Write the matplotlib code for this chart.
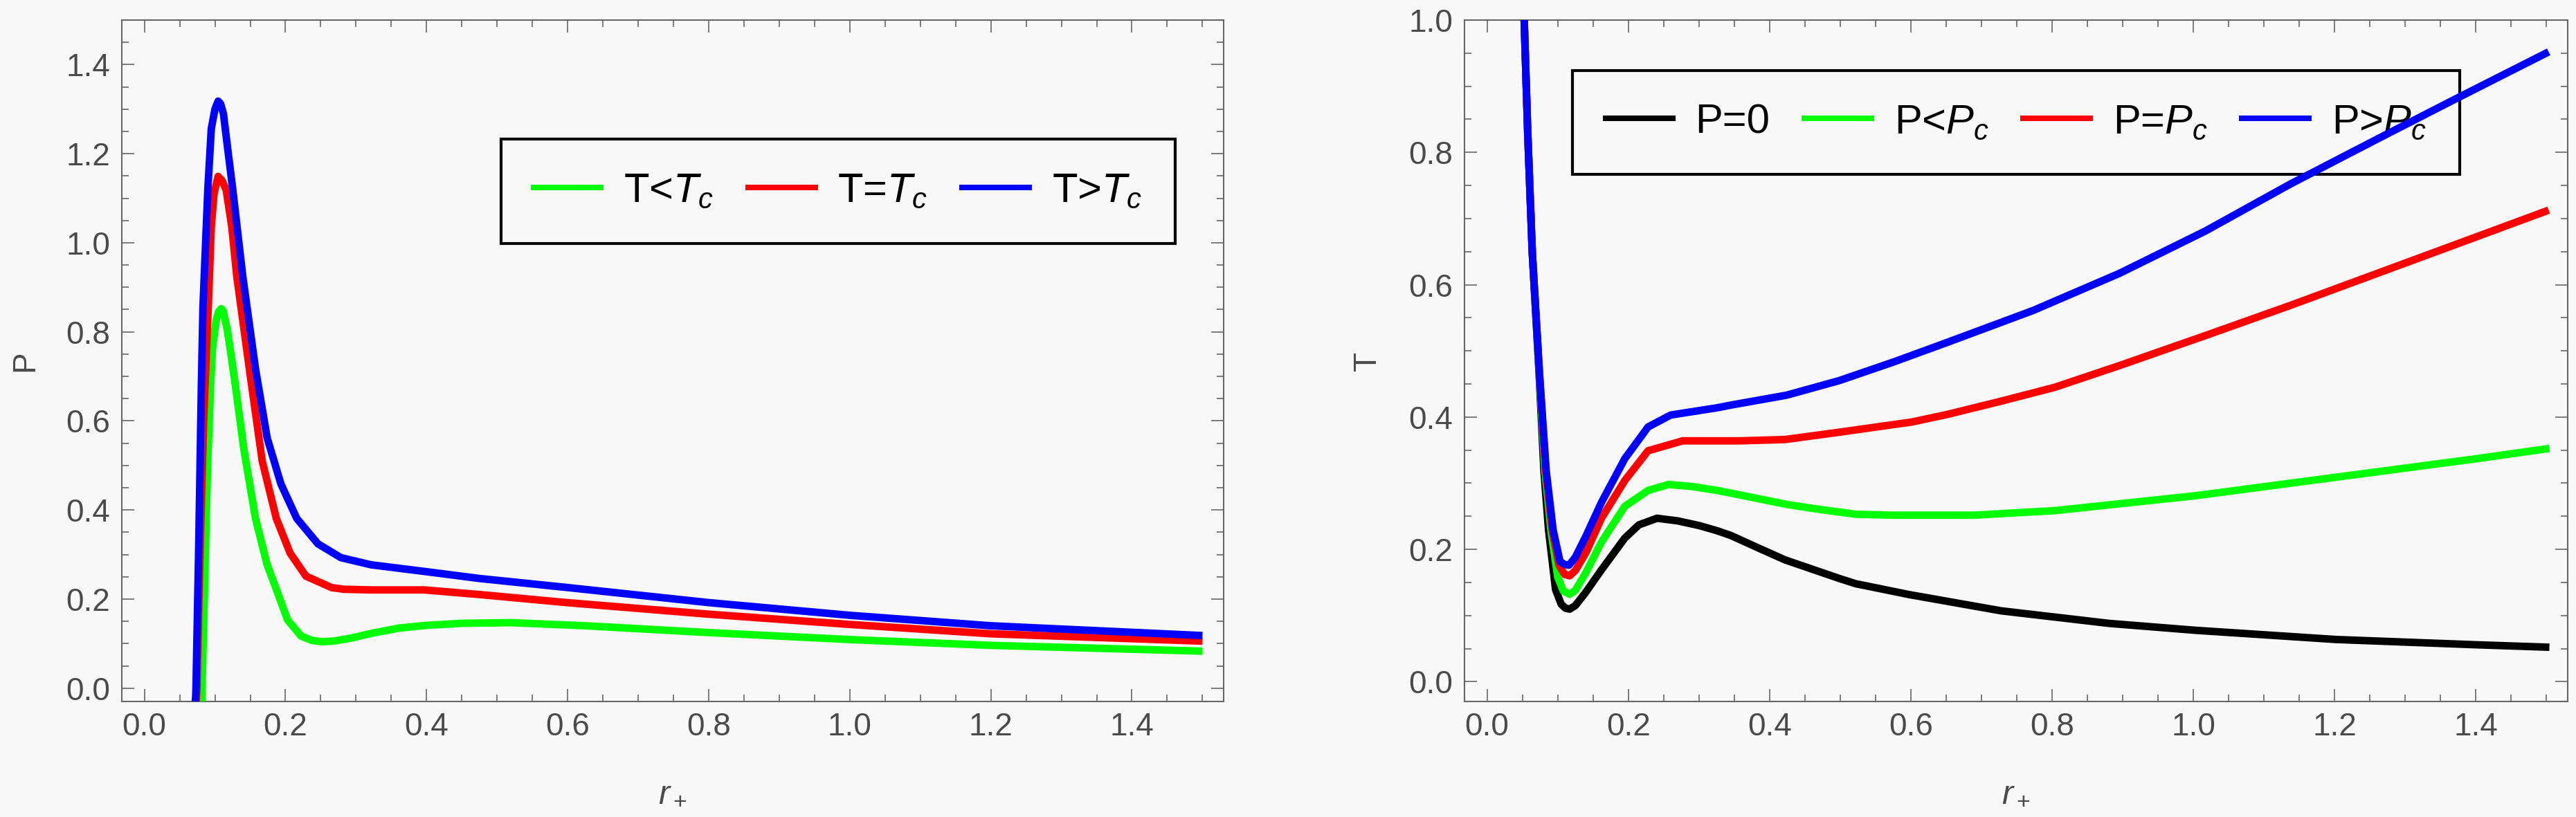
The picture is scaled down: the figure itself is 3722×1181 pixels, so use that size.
import matplotlib
matplotlib.use("Agg")
import matplotlib.pyplot as plt
from matplotlib.lines import Line2D
from matplotlib.ticker import MultipleLocator, FormatStrFormatter

plt.rcParams['font.family'] = ['Liberation Sans', 'DejaVu Sans']
plt.rcParams['mathtext.fontset'] = 'custom'
plt.rcParams['mathtext.rm'] = 'Liberation Sans'
plt.rcParams['mathtext.it'] = 'Liberation Sans:italic'

# ---------------- Left panel: P vs r_+ ----------------
r_P_low = [0.0810, 0.0816, 0.0855, 0.0895, 0.0937, 0.0967, 0.1016, 0.1050, 0.1090, 0.1117,
           0.1180, 0.1280, 0.1410, 0.1575, 0.1740, 0.1870, 0.2030, 0.2220, 0.2380, 0.2530,
           0.2700, 0.2920, 0.3250, 0.3620, 0.4000, 0.4500, 0.5200, 0.6250, 0.8000, 1.0000,
           1.2000, 1.5000]
P_low = [-0.05, -0.008, 0.24, 0.498, 0.677, 0.766, 0.825, 0.845, 0.852, 0.847,
         0.800, 0.691, 0.536, 0.381, 0.277, 0.222, 0.153, 0.117, 0.107, 0.104,
         0.106, 0.112, 0.124, 0.135, 0.141, 0.1455, 0.147, 0.140, 0.1247, 0.109,
         0.096, 0.083]

r_P_crit = [0.0725, 0.0745, 0.0790, 0.0840, 0.0905, 0.0947, 0.0986, 0.1045, 0.1100, 0.1160,
            0.1240, 0.1310, 0.1510, 0.1670, 0.1870, 0.2066, 0.2290, 0.2655, 0.2830, 0.3210,
            0.3970, 0.4760, 0.5990, 0.8000, 1.0000, 1.2000, 1.5000]
P_crit = [-0.05, 0.0, 0.32, 0.60, 0.856, 1.033, 1.110, 1.149, 1.140, 1.118,
          1.034, 0.924, 0.691, 0.510, 0.381, 0.303, 0.2515, 0.2256, 0.222, 0.2205,
          0.2205, 0.210, 0.192, 0.166, 0.143, 0.122, 0.1055]

r_P_high = [0.0715, 0.0730, 0.0770, 0.0807, 0.0830, 0.0900, 0.0948, 0.1000, 0.1045, 0.1080,
            0.1120, 0.1180, 0.1250, 0.1395, 0.1575, 0.1740, 0.1935, 0.2160, 0.2460, 0.2785,
            0.3210, 0.3970, 0.4760, 0.5990, 0.8000, 1.0000, 1.2000, 1.5000]
P_high = [-0.05, -0.008, 0.32, 0.677, 0.856, 1.123, 1.256, 1.300, 1.318, 1.312,
          1.290, 1.212, 1.123, 0.924, 0.717, 0.562, 0.4585, 0.381, 0.324, 0.293,
          0.277, 0.262, 0.246, 0.226, 0.192, 0.1635, 0.140, 0.118]

left_labels = ['T<$T_c$', 'T=$T_c$', 'T>$T_c$']

# ---------------- Right panel: T vs r_+ ----------------
r_T_zero = [0.0508, 0.0527, 0.0576, 0.0640, 0.0735, 0.0805, 0.0870, 0.0970, 0.1050, 0.1110,
            0.1170, 0.1250, 0.1390, 0.1620, 0.1950, 0.2150, 0.2407, 0.2700, 0.3000, 0.3260,
            0.3450, 0.3800, 0.4220, 0.4985, 0.5220, 0.5980, 0.7280, 0.8810, 1.0030, 1.2020,
            1.4010, 1.5040]
T_zero = [1.06, 0.996, 0.829, 0.649, 0.469, 0.319, 0.230, 0.139, 0.117, 0.111,
          0.1096, 0.115, 0.134, 0.169, 0.217, 0.237, 0.247, 0.243, 0.236, 0.228,
          0.221, 0.204, 0.184, 0.156, 0.148, 0.1315, 0.107, 0.088, 0.0776, 0.0637,
          0.0557, 0.052]

r_T_low = [0.0508, 0.0527, 0.0576, 0.0640, 0.0738, 0.0820, 0.0903, 0.1000, 0.1080, 0.1170,
           0.1250, 0.1400, 0.1620, 0.1950, 0.2280, 0.2570, 0.2900, 0.3260, 0.3450, 0.4240,
           0.4600, 0.5220, 0.5750, 0.6900, 0.8040, 1.0030, 1.2020, 1.4010, 1.5040]
T_low = [1.06, 0.996, 0.829, 0.649, 0.469, 0.319, 0.230, 0.158, 0.137, 0.132,
         0.138, 0.165, 0.211, 0.265, 0.289, 0.298, 0.295, 0.289, 0.285, 0.268,
         0.262, 0.253, 0.2516, 0.2516, 0.2585, 0.281, 0.309, 0.337, 0.3525]

r_T_crit = [0.0508, 0.0527, 0.0576, 0.0640, 0.0740, 0.0830, 0.0920, 0.1018, 0.1100, 0.1170,
            0.1250, 0.1400, 0.1620, 0.1950, 0.2280, 0.2770, 0.3580, 0.4220, 0.4985, 0.6016,
            0.6520, 0.7280, 0.8040, 0.8960, 1.0167, 1.1380, 1.2600, 1.3820, 1.5030]
T_crit = [1.06, 0.996, 0.829, 0.649, 0.469, 0.319, 0.230, 0.176, 0.162, 0.160,
          0.168, 0.195, 0.247, 0.304, 0.349, 0.364, 0.364, 0.366, 0.377, 0.3925,
          0.404, 0.424, 0.445, 0.478, 0.523, 0.569, 0.617, 0.665, 0.7127]

r_T_high = [0.0508, 0.0527, 0.0576, 0.0640, 0.0740, 0.0837, 0.0935, 0.1033, 0.1100, 0.1160,
            0.1250, 0.1400, 0.1620, 0.1950, 0.2280, 0.2600, 0.3260, 0.3450, 0.4240, 0.4985,
            0.5750, 0.6520, 0.7730, 0.8950, 1.0167, 1.1380, 1.2600, 1.3696, 1.5030]
T_high = [1.06, 0.996, 0.829, 0.649, 0.469, 0.319, 0.2296, 0.1816, 0.177, 0.176,
          0.188, 0.220, 0.271, 0.337, 0.385, 0.403, 0.414, 0.418, 0.433, 0.455,
          0.483, 0.513, 0.561, 0.617, 0.681, 0.7526, 0.820, 0.880, 0.952]

right_labels = ['P=0', 'P<$P_c$', 'P=$P_c$', 'P>$P_c$']

BG = '#f8f8f8'
GRAY = '#666666'
TXT = '#4a4a4a'
LW = 7.8

fig = plt.figure(figsize=(37.22, 11.81), dpi=100, facecolor=BG)
axL = fig.add_axes([0.0473, 0.1414, 0.4277, 0.834])
axR = fig.add_axes([0.5685, 0.1414, 0.4283, 0.834])


def style(ax, ymax, ylab):
    ax.set_facecolor(BG)
    ax.set_xlim(-0.032, 1.53)
    ax.set_ylim(-0.03, ymax)
    ax.xaxis.set_major_locator(MultipleLocator(0.2))
    ax.xaxis.set_minor_locator(MultipleLocator(0.05))
    ax.yaxis.set_major_locator(MultipleLocator(0.2))
    ax.yaxis.set_minor_locator(MultipleLocator(0.05))
    ax.xaxis.set_major_formatter(FormatStrFormatter('%.1f'))
    ax.yaxis.set_major_formatter(FormatStrFormatter('%.1f'))
    ax.tick_params(which='both', direction='in', top=True, right=True,
                   color=GRAY, width=1.2, labelcolor=TXT, labelsize=33)
    ax.tick_params(which='major', length=13)
    ax.tick_params(which='minor', length=7)
    ax.tick_params(axis='x', pad=11)
    ax.tick_params(axis='y', pad=12)
    for s in ax.spines.values():
        s.set_color(GRAY)
        s.set_linewidth(1.5)
    ax.set_xlabel('$r_+$', fontsize=35, color=TXT)
    ax.set_ylabel(ylab, fontsize=33, color=TXT)
    ax.xaxis.set_label_coords(0.5, -0.135)
    ax.xaxis.label.set_va('center')
    ax.yaxis.set_label_coords(-0.088, 0.50)
    ax.yaxis.label.set_va('center')


style(axL, 1.5, 'P')
style(axR, 1.0, 'T')

kw = dict(lw=LW, solid_joinstyle='round', solid_capstyle='butt', zorder=3)
axL.plot(r_P_low, P_low, color='#00ff00', **kw)
axL.plot(r_P_crit, P_crit, color='#ff0000', **kw)
axL.plot(r_P_high, P_high, color='#0000ff', **kw)

axR.plot(r_T_zero, T_zero, color='#000000', **kw)
axR.plot(r_T_low, T_low, color='#00ff00', **kw)
axR.plot(r_T_crit, T_crit, color='#ff0000', **kw)
axR.plot(r_T_high, T_high, color='#0000ff', **kw)


def make_legend(ax, colors, labels, center):
    handles = [Line2D([], [], color=c, lw=5.8) for c in colors]
    leg = ax.legend(handles, labels, loc='center', bbox_to_anchor=center,
                    ncol=len(labels), fontsize=43, frameon=True, fancybox=False,
                    edgecolor='black', facecolor=BG, framealpha=1.0,
                    handlelength=1.62, handletextpad=0.55, columnspacing=0.83,
                    borderpad=0.8, borderaxespad=0)
    leg.get_frame().set_linewidth(3.0)
    leg.set_zorder(2)
    return leg


make_legend(axL, ['#00ff00', '#ff0000', '#0000ff'], left_labels, (0.650, 0.749))
make_legend(axR, ['#000000', '#00ff00', '#ff0000', '#0000ff'], right_labels, (0.500, 0.850))

fig.savefig('out.png', dpi=100, facecolor=BG)
